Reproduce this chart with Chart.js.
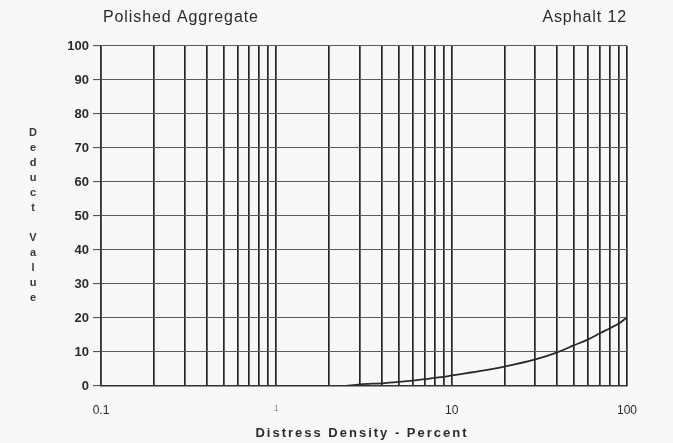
<!DOCTYPE html>
<html>
<head>
<meta charset="utf-8">
<title>Polished Aggregate - Asphalt 12</title>
<script src="https://cdn.jsdelivr.net/npm/chart.js@4/dist/chart.umd.min.js"></script>
<style>
  html, body { margin: 0; padding: 0; background: #f8f8f6; }
  #wrap { position: relative; width: 673px; height: 443px; }
</style>
</head>
<body>
<div id="wrap"><canvas id="chart" width="673" height="443"></canvas></div>
<script>
// Deduct curve: distress density (%) vs deduct value
const densities    = [2.5, 3, 4, 5, 6, 7, 8, 9, 10, 15, 20, 30, 40, 50, 60, 70, 80, 90, 100];
const deductValues = [0, 0.5, 0.8, 1.2, 1.6, 2.0, 2.4, 2.7, 3.1, 4.5, 5.7, 7.8, 9.9, 12, 13.7, 15.5, 17, 18.4, 20.2];

// Log-cycle grid positions on the density axis, and which of them get a label
const xGridValues = [0.1, 0.2, 0.3, 0.4, 0.5, 0.6, 0.7, 0.8, 0.9,
                     1, 2, 3, 4, 5, 6, 7, 8, 9,
                     10, 20, 30, 40, 50, 60, 70, 80, 90, 100];
const xTickLabels = { 0.1: '0.1', 1: '1', 10: '10', 100: '100' };
const yTickValues = [0, 10, 20, 30, 40, 50, 60, 70, 80, 90, 100];

const titleLeft  = 'Polished Aggregate';
const titleRight = 'Asphalt 12';
const xTitle     = 'Distress Density - Percent';
const yTitle     = 'Deduct Value';

const ink = '#2b2b2b';
const fontFamily = '"Liberation Sans", Arial, Helvetica, sans-serif';

// Headings, the stacked vertical axis title and the x-axis title
const annotations = {
  id: 'annotations',
  afterDraw(chart) {
    const ctx = chart.ctx;
    const area = chart.chartArea;
    ctx.save();
    ctx.fillStyle = ink;
    ctx.textBaseline = 'middle';

    ctx.font = '16px ' + fontFamily;
    ctx.letterSpacing = '0.9px';
    ctx.textAlign = 'left';
    ctx.fillText(titleLeft, area.left + 2, 18);
    ctx.textAlign = 'right';
    ctx.fillText(titleRight, area.right, 18);

    ctx.font = 'bold 13px ' + fontFamily;
    ctx.letterSpacing = '2px';
    ctx.textAlign = 'center';
    ctx.fillText(xTitle, 362, 433);

    ctx.font = 'bold 11px ' + fontFamily;
    ctx.letterSpacing = '0px';
    ctx.fillStyle = '#383838';
    let y = 133;
    for (const ch of yTitle) {
      if (ch === ' ') { y += 14.5; continue; }
      ctx.fillText(ch, 33, y);
      y += 15;
    }
    ctx.restore();
  }
};

new Chart(document.getElementById('chart'), {
  type: 'line',
  data: {
    datasets: [{
      data: densities.map((d, i) => ({ x: d, y: deductValues[i] })),
      borderColor: '#2a2a2a',
      borderWidth: 1.8,
      pointRadius: 0,
      cubicInterpolationMode: 'monotone',
      fill: false
    }]
  },
  options: {
    responsive: false,
    animation: false,
    layout: { padding: { left: 0, right: 46, top: 46, bottom: 0 } },
    plugins: { legend: { display: false }, tooltip: { enabled: false } },
    scales: {
      x: {
        type: 'logarithmic',
        min: 0.1,
        max: 100,
        afterBuildTicks(scale) {
          scale.ticks = xGridValues.map(v => ({ value: v }));
        },
        afterFit(scale) { scale.height = 57; },
        grid: {
          color: '#262626',
          lineWidth: 1.7,
          drawTicks: false
        },
        border: { color: '#333', width: 1.4 },
        ticks: {
          autoSkip: false,
          maxRotation: 0,
          padding: 17,
          color: ctx => (ctx.tick && ctx.tick.value === 1) ? '#8a8a8a' : ink,
          font: ctx => (ctx.tick && ctx.tick.value === 1)
            ? { family: fontFamily, size: 9 }
            : { family: fontFamily, size: 12 },
          callback: value => xTickLabels[value] || ''
        }
      },
      y: {
        min: 0,
        max: 100,
        afterBuildTicks(scale) {
          scale.ticks = yTickValues.map(v => ({ value: v }));
        },
        afterFit(scale) { scale.width = 101; },
        grid: {
          color: '#5a5a5a',
          lineWidth: 1.1,
          tickLength: 8,
          tickColor: '#555'
        },
        border: { color: '#333', width: 1.4 },
        ticks: {
          padding: 4,
          color: ink,
          font: { family: fontFamily, size: 13, weight: 'bold' }
        }
      }
    }
  },
  plugins: [annotations]
});
</script>
</body>
</html>
